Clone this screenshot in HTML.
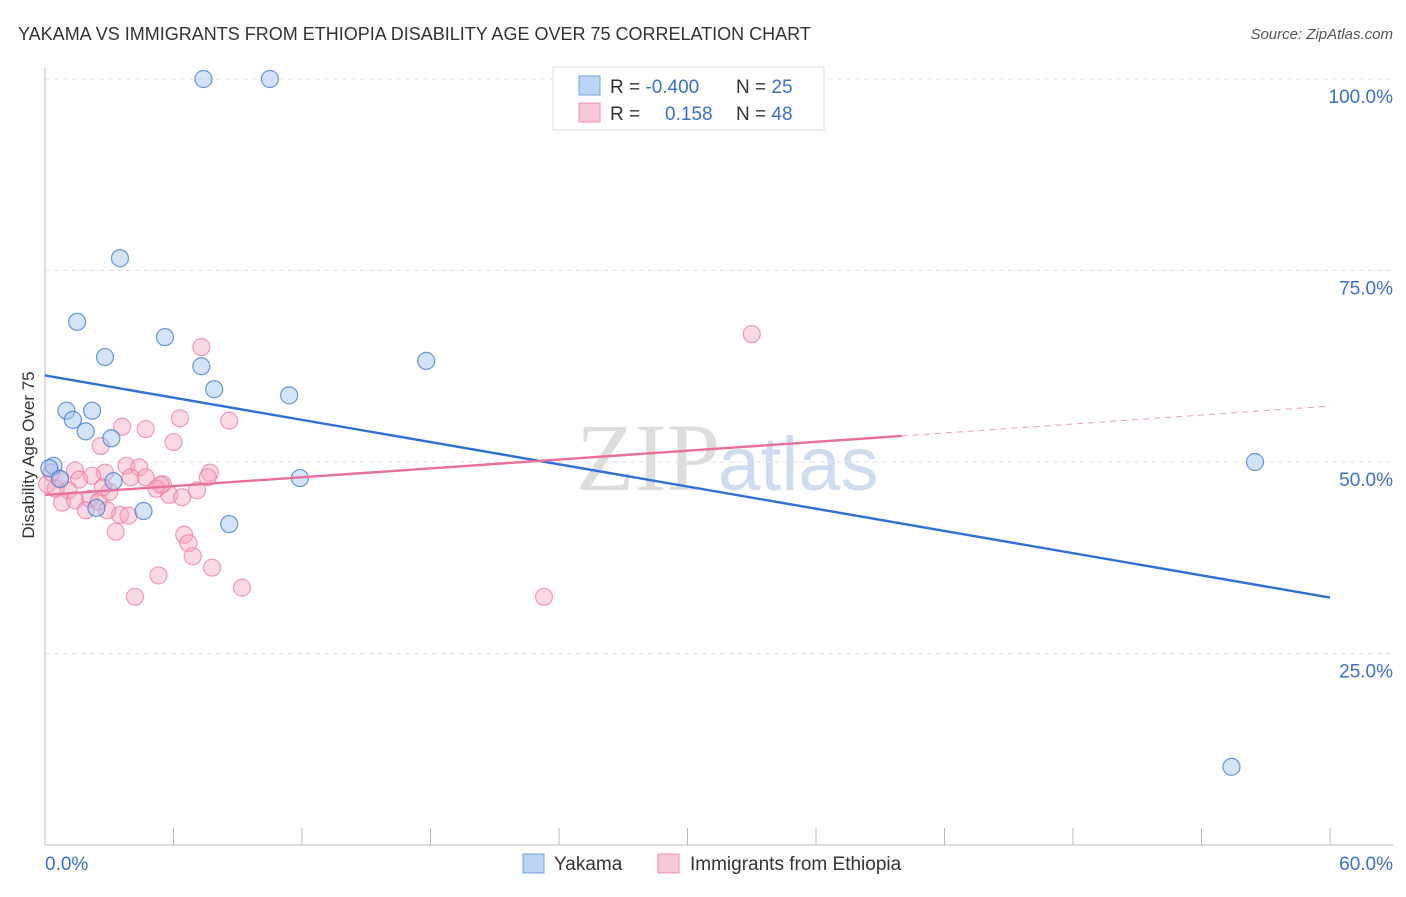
<!DOCTYPE html><html><head><meta charset="utf-8"><style>
body{margin:0;background:#fff;font-family:"Liberation Sans",sans-serif}
</style></head><body>
<svg id="c" width="1406" height="892" xmlns="http://www.w3.org/2000/svg">
<text x="18" y="40" font-size="18" fill="#333">YAKAMA VS IMMIGRANTS FROM ETHIOPIA DISABILITY AGE OVER 75 CORRELATION CHART</text>
<text x="1393" y="39" font-size="15" fill="#555" font-style="italic" text-anchor="end">Source: ZipAtlas.com</text>
<text x="720" y="490" font-size="96" font-family="Liberation Serif" fill="#ddd" text-anchor="end">ZIP</text>
<text x="718" y="490" font-size="76" fill="#cfdcef">atlas</text>
<g id="grid"></g><g id="pts"></g><g id="lines"></g>
<text transform="translate(34,455) rotate(-90)" font-size="17" fill="#333" text-anchor="middle">Disability Age Over 75</text>
<g>
<rect x="553" y="67" width="271" height="63" fill="#fff" stroke="#ddd"/>
<rect x="579" y="76" width="21" height="19" fill="#bcd5f5" stroke="#6f9fe0"/>
<rect x="579" y="103" width="21" height="19" fill="#f9c8d6" stroke="#ee90ab"/>
<text x="610" y="93" font-size="19" fill="#333">R = <tspan fill="#3a6fd0">-0.400</tspan><tspan x="736">N = </tspan><tspan fill="#3a6fd0">25</tspan></text>
<text x="610" y="120" font-size="19" fill="#333">R = <tspan x="665" fill="#3a6fd0">0.158</tspan><tspan x="736">N = </tspan><tspan fill="#3a6fd0">48</tspan></text>
</g>
<g>
<rect x="523" y="854" width="21" height="19" fill="#bcd5f5" stroke="#6f9fe0"/>
<text x="554" y="870" font-size="19" fill="#333">Yakama</text>
<rect x="658" y="854" width="21" height="19" fill="#f9c8d6" stroke="#ee90ab"/>
<text x="690" y="870" font-size="19" fill="#333">Immigrants from Ethiopia</text>
</g>
</svg>
<script>
const xTickLabels=["0.0%","60.0%"];
const yTicks=[25,50,75,100];
const yakamaX=[7.4,10.5,3.5,1.5,5.6,2.8,7.3,17.8,7.9,11.4,1.0,2.2,1.3,1.9,3.1,0.4,0.2,0.7,11.9,3.2,2.4,4.6,8.6,56.5,55.4];
const yakamaY=[100,100,76.6,68.3,66.3,63.7,62.5,63.2,59.5,58.7,56.7,56.7,55.5,54.0,53.1,49.5,49.2,47.8,47.9,47.5,44.0,43.6,41.9,50.0,10.2];
const ethX=[7.3,8.6,6.3,3.6,4.7,6.0,2.6,33.0,3.8,4.4,7.7,1.4,2.8,2.2,4.0,4.7,5.5,7.6,1.6,0.7,0.1,0.5,1.1,3.0,5.8,6.4,7.1,2.1,0.8,1.4,2.5,1.9,3.5,3.9,2.9,3.3,6.5,6.7,6.9,7.8,5.3,9.2,4.2,23.3,0.3,2.7,5.2,5.4];
const ethY=[65.0,55.4,55.7,54.6,54.3,52.6,52.1,66.7,49.5,49.3,48.6,48.9,48.6,48.2,48.0,48.0,47.1,48.0,47.7,47.7,47.1,46.5,46.3,46.1,45.7,45.4,46.3,45.2,44.7,45.0,44.8,43.7,43.1,43.0,43.7,40.9,40.5,39.4,37.7,36.2,35.2,33.6,32.4,32.4,48.6,46.7,46.5,47.0];
const blueLine=[[0,61.3],[60,32.3]];
const pinkLine=[[0,45.7],[40,53.4]];
const pinkDash=[[40,53.4],[60,57.3]];
const NS="http://www.w3.org/2000/svg";
const X=v=>45+v/60*1285, Y=v=>845-v/100*766;
function mk(t,a,p){const e=document.createElementNS(NS,t);for(const k in a)e.setAttribute(k,a[k]);document.getElementById(p).appendChild(e);return e;}
const root='c';
for(const t of yTicks){
 const g=mk('line',{x1:45,x2:1393,y1:Y(t),y2:Y(t),stroke:'#e2e2e2','stroke-dasharray':'5,4'},'grid');
 
 
 const l=mk('text',{x:1393,y:Y(t)+24,'font-size':19,fill:'#3a6fd0','text-anchor':'end'},'grid');l.textContent=t.toFixed(1)+'%';
 
 
}
const ax=mk('line',{x1:45,x2:45,y1:68,y2:845,stroke:'#bbb'},'grid');


const bx=mk('line',{x1:45,x2:1393,y1:845,y2:845,stroke:'#bbb'},'grid');


for(let i=0;i<=10;i++){const t=mk('line',{x1:X(i*6),x2:X(i*6),y1:828,y2:845,stroke:'#bbb'},'grid');
 
 }
[[0,'start',45],[60,'end',1393]].forEach((d,i)=>{const t=mk('text',{x:d[2],y:870,'font-size':19,fill:'#3a6fd0','text-anchor':d[1]},'grid');t.textContent=xTickLabels[i];
 
 });
ethX.forEach((x,i)=>{const c=mk('circle',{cx:X(x),cy:Y(ethY[i]),r:8.5,fill:'rgba(245,160,185,0.4)',stroke:'rgba(235,120,155,0.7)','stroke-width':1.2},'pts');
 
 });
yakamaX.forEach((x,i)=>{const c=mk('circle',{cx:X(x),cy:Y(yakamaY[i]),r:8.5,fill:'rgba(160,195,240,0.45)',stroke:'rgba(70,125,215,0.8)','stroke-width':1.2},'pts');
 
 });
function ln(p,col,dash,name){const e=mk('line',{x1:X(p[0][0]),y1:Y(p[0][1]),x2:X(p[1][0]),y2:Y(p[1][1]),stroke:col,'stroke-width':dash?1:2.4,'stroke-dasharray':dash||'none'},'lines');
 
 }
ln(blueLine,'#2f6fd6',null,'yakama-trend-line');
ln(pinkLine,'#e8709a',null,'ethiopia-trend-line');
ln(pinkDash,'#e8a0b8','6,5','ethiopia-trend-extension');
</script></body></html>
